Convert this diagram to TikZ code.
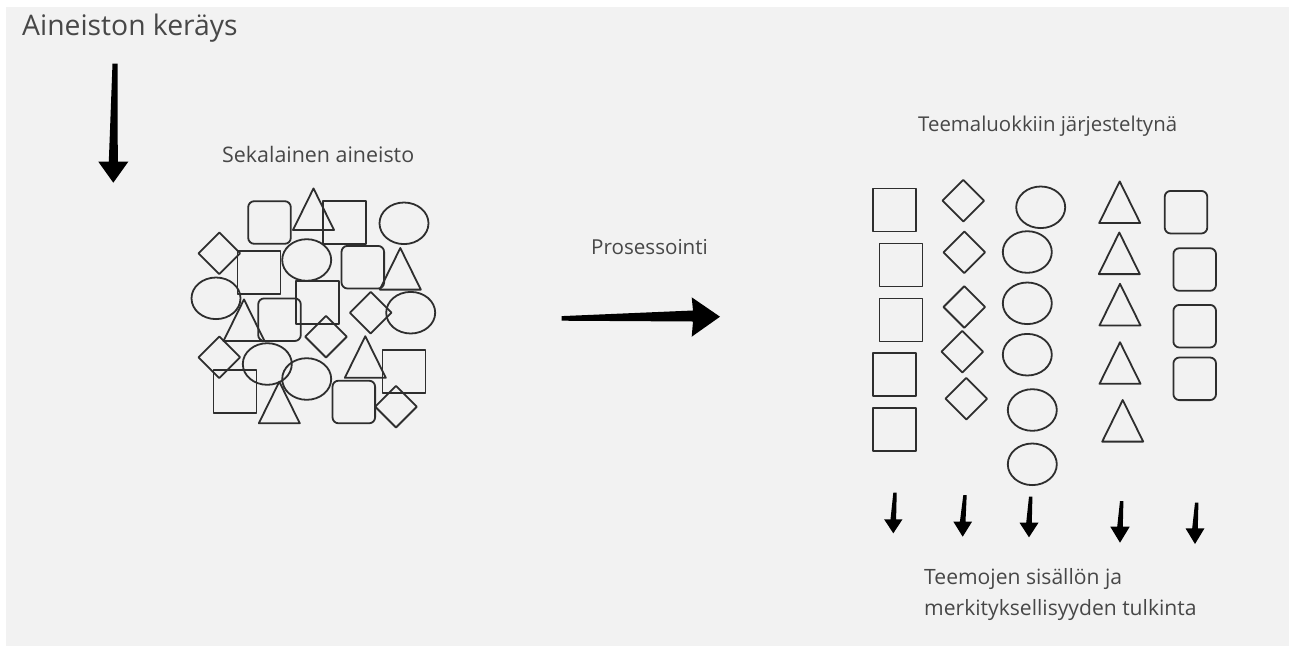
\documentclass[tikz,border=0pt]{standalone}
\usepackage{fontspec}
\setmainfont{Open Sans}
\usetikzlibrary{calc}
\definecolor{boardgray}{HTML}{F2F2F2}
\definecolor{inkline}{HTML}{2E2E2E}
\definecolor{labelink}{HTML}{474747}
\definecolor{arrowink}{HTML}{000000}
\tikzset{
  shapeline/.style={draw=inkline, line width=1.8pt, line join=round},
  label/.style={anchor=base west, inner sep=0pt, text=labelink},
}
% shape helpers, centred on (#1,#2) in pixel units
\newcommand\shpSquare[2]{\draw[shapeline] (#1-21.5,#2-21.5) rectangle (#1+21.5,#2+21.5);}
\newcommand\shpRound[2]{\draw[shapeline, rounded corners=6pt] (#1-21.3,#2-21.3) rectangle (#1+21.3,#2+21.3);}
\newcommand\shpOval[2]{\draw[shapeline] (#1,#2) ellipse [x radius=24.5, y radius=20.8];}
\newcommand\shpDiamond[2]{\draw[shapeline] (#1-20.8,#2) -- (#1,#2-20.8) -- (#1+20.8,#2) -- (#1,#2+20.8) -- cycle;}
\newcommand\shpTriangle[2]{\draw[shapeline] (#1,#2-20.8) -- (#1+20.5,#2+20.8) -- (#1-20.5,#2+20.8) -- cycle;}
% tapered downward arrow: #1 tail coordinate, #2 tip coordinate,
% #3 half width at tail, #4 half width at neck, #5 head length, #6 head half width
\newcommand\downArrowShape[6]{%
  \fill[arrowink, line join=round] let \p1=(#1), \p2=(#2) in
    (\x1-#3,\y1) -- (\x1+#3,\y1) -- (\x2+#4,\y2+#5) -- (\x2+#6,\y2+#5) -- (\p2)
    -- (\x2-#6,\y2+#5) -- (\x2-#4,\y2+#5) -- cycle;}
\begin{document}
\begin{tikzpicture}[x=1pt, y=-1pt]
  \useasboundingbox (0,0) rectangle (1290,646);
  \fill[white] (0,0) rectangle (1290,646);
  \fill[boardgray] (6,7) rectangle (1289,646);

  % labels
  \node[label, font=\fontsize{28.3}{34}\selectfont] (collect) at (22,35) {Aineiston keräys};
  \node[label, font=\fontsize{21.4}{30}\selectfont] (mixed) at (222,162) {Sekalainen aineisto};
  \node[label, font=\fontsize{20.6}{30}\selectfont] (process) at (591,254) {Prosessointi};
  \node[label, font=\fontsize{20.4}{30}\selectfont] (sorted) at (918,131.5) {Teemaluokkiin järjesteltynä};
  \node[label, font=\fontsize{21.1}{30.7}\selectfont, align=left] (interp) at (924,615)
    {Teemojen sisällön ja\\merkityksellisyyden tulkinta};

  % collection arrow
  \coordinate (collectTail) at (115,63.5);
  \coordinate (collectTip) at (113.3,182.7);
  \downArrowShape{collectTail}{collectTip}{2.5pt}{4.5pt}{21pt}{15pt}

  % processing arrow
  \coordinate (procTail) at (561.7,318.3);
  \coordinate (procTip) at (720,316.7);
  \fill[arrowink, line join=round]
    ($(procTail)+(0,-2.2)$) -- (693,310.5) -- (691.7,297.3) -- (procTip)
    -- (691.7,336.7) -- (693,321.5) -- ($(procTail)+(0,2.4)$) -- cycle;

  % mixed material
  \shpRound{269.5}{222.5}
  \shpTriangle{313.5}{209.2}
  \shpSquare{344.5}{222.2}
  \shpOval{404}{223.3}
  \shpDiamond{219.3}{253.3}
  \shpSquare{259}{272.5}
  \shpOval{306.7}{260}
  \shpRound{362.8}{267.2}
  \shpTriangle{400.3}{268.8}
  \shpOval{216}{298.3}
  \shpSquare{317.3}{302.8}
  \shpTriangle{244}{320.2}
  \shpRound{279.5}{319.7}
  \shpDiamond{370.7}{312.7}
  \shpOval{410.7}{312.7}
  \shpDiamond{326}{336.7}
  \shpDiamond{219.3}{357.3}
  \shpOval{267.3}{364}
  \shpTriangle{365.3}{357}
  \shpSquare{404}{371.3}
  \shpOval{306.7}{379}
  \shpSquare{235}{391.7}
  \shpTriangle{279.3}{402.5}
  \shpRound{353.8}{402}
  \shpDiamond{396}{406.7}

  % sorted into themes
  \shpSquare{894.3}{210}
  \shpSquare{901}{265}
  \shpSquare{901}{320}
  \shpSquare{894.3}{374.3}
  \shpSquare{894.3}{429.3}

  \shpDiamond{963.3}{200.7}
  \shpDiamond{964.3}{252.3}
  \shpDiamond{964.3}{307}
  \shpDiamond{962.3}{351.7}
  \shpDiamond{966.3}{398.7}

  \shpOval{1040.7}{207.3}
  \shpOval{1027.3}{252}
  \shpOval{1027.3}{303.3}
  \shpOval{1027.3}{354.7}
  \shpOval{1032.3}{410}
  \shpOval{1032.3}{464.3}

  \shpTriangle{1119.7}{202.2}
  \shpTriangle{1119.3}{253.3}
  \shpTriangle{1120}{304.6}
  \shpTriangle{1120}{363}
  \shpTriangle{1122.7}{420.8}

  \shpRound{1186}{212.2}
  \shpRound{1194.7}{269.5}
  \shpRound{1194.7}{326.2}
  \shpRound{1194.7}{378.8}

  % interpretation arrows
  \coordinate (tA) at (895,492.7);    \coordinate (pA) at (893.3,533.3);
  \coordinate (tB) at (965,495);      \coordinate (pB) at (962.7,536.7);
  \coordinate (tC) at (1030.7,496.7); \coordinate (pC) at (1029,537.3);
  \coordinate (tD) at (1121.7,501);   \coordinate (pD) at (1120,542.7);
  \coordinate (tE) at (1196.7,502.7); \coordinate (pE) at (1195,544);
  \downArrowShape{tA}{pA}{1.7pt}{2.8pt}{14pt}{9.2pt}
  \downArrowShape{tB}{pB}{1.7pt}{2.8pt}{15pt}{9.3pt}
  \downArrowShape{tC}{pC}{1.7pt}{2.8pt}{14.6pt}{9.5pt}
  \downArrowShape{tD}{pD}{1.7pt}{2.8pt}{16pt}{9.7pt}
  \downArrowShape{tE}{pE}{1.7pt}{2.8pt}{15.7pt}{9.5pt}
\end{tikzpicture}
\end{document}
